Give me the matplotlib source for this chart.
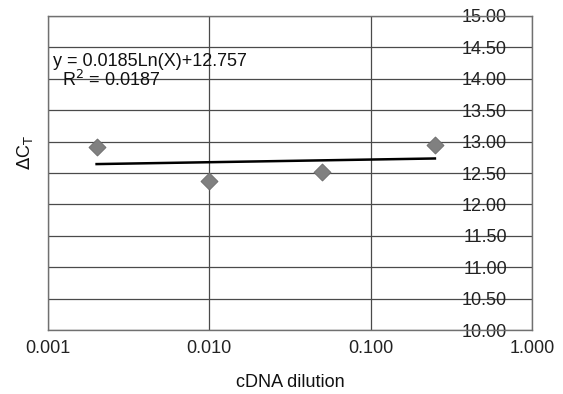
import matplotlib
matplotlib.use('Agg')
import matplotlib.pyplot as plt
from matplotlib.ticker import FixedLocator, FuncFormatter
import numpy as np

plt.rcParams['font.family'] = ['Liberation Sans', 'DejaVu Sans']

# data
dilution = [0.002, 0.01, 0.05, 0.25]
delta_ct = [12.91, 12.37, 12.52, 12.95]

# log trendline as printed on the chart
slope = 0.0185
intercept = 12.757
eq_text = "y = 0.0185Ln(X)+12.757"
r2_text = "R$^2$ = 0.0187"

x_ticks = [0.001, 0.01, 0.1, 1.0]
x_tick_labels = ["0.001", "0.010", "0.100", "1.000"]
y_ticks = [10.0, 10.5, 11.0, 11.5, 12.0, 12.5, 13.0, 13.5, 14.0, 14.5, 15.0]

FS = 13

fig = plt.figure(figsize=(5.63, 3.94), dpi=100)
ax = fig.add_axes([0.0853, 0.1624, 0.8597, 0.7970])

ax.set_xscale('log')
ax.set_xlim(0.001, 1.0)
ax.set_ylim(10, 15)

# gridlines
ax.xaxis.set_major_locator(FixedLocator(x_ticks))
ax.xaxis.set_minor_locator(FixedLocator([]))
ax.set_xticklabels(x_tick_labels)
ax.yaxis.set_major_locator(FixedLocator(y_ticks))
ax.yaxis.set_major_formatter(FuncFormatter(lambda v, p: f"{v:.2f}"))
ax.grid(True, which='major', color='#4a4a4a', lw=0.9)
ax.set_axisbelow(True)
for s in ax.spines.values():
    s.set_color('#707070')
    s.set_linewidth(1.0)

# y labels sit inside the plot, just left of the right edge
ax.yaxis.tick_right()
ax.tick_params(axis='y', length=0, pad=-18, labelsize=FS, colors='#222222')
for lbl in ax.get_yticklabels():
    lbl.set_horizontalalignment('right')
ax.tick_params(axis='x', length=0, pad=7, labelsize=FS, colors='#222222')

# trendline
xs = np.geomspace(min(dilution), max(dilution), 50)
ax.plot(xs, slope * np.log(xs) + intercept, color='black', lw=1.8, zorder=3)

# data points
ax.scatter(dilution, delta_ct, marker='D', s=75, color='#808080',
           edgecolors='#6a6a6a', linewidths=0.6, zorder=4)

ax.text(0.00107, 14.27, eq_text, fontsize=FS, ha='left', va='center', color='#111111')
ax.text(0.00122, 13.98, r2_text, fontsize=FS, ha='left', va='center', color='#111111')

fig.text(0.044, 0.612, r"$\Delta$C$_\mathrm{T}$", rotation=90, fontsize=FS,
         ha='center', va='center', color='#111111')
fig.text(0.515, 0.03, "cDNA dilution", fontsize=FS, ha='center', va='center',
         color='#111111')

fig.savefig('out.png', dpi=100)
